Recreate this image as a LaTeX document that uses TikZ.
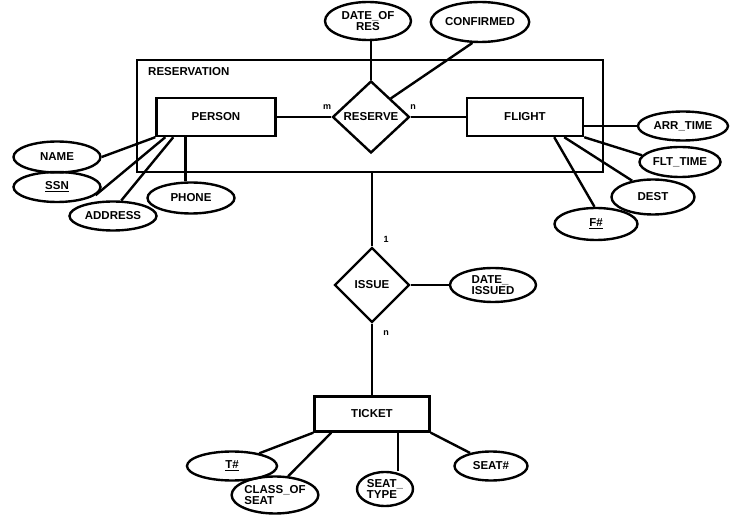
\documentclass[tikz,border=0pt]{standalone}
\usepackage{fontspec}
\setmainfont{Liberation Sans}
\usetikzlibrary{shapes.geometric}
\begin{document}
\begin{tikzpicture}[x=1pt,y=-1pt,
  every node/.style={font=\fontsize{11.5}{9}\selectfont\bfseries, inner sep=0pt},
  ent/.style={draw, line width=2.4pt, rectangle},
  attr/.style={draw, line width=2.4pt, ellipse},
  rel/.style={draw, line width=2.4pt, diamond},
  conn/.style={line width=2.4pt},
  card/.style={font=\fontsize{9}{9}\selectfont\bfseries}]
\useasboundingbox (0,0) rectangle (734,529);

% aggregation box
\node[ent, minimum width=466pt, minimum height=112pt] (resbox) at (370,116) {};
\node[anchor=west] (reslabel) at (148,72) {RESERVATION};

% entities and relationships
\node[ent, minimum width=119pt, minimum height=38pt] (person) at (216,117) {PERSON};
\node[rel, minimum width=77pt, minimum height=72pt] (reserve) at (371,117) {RESERVE};
\node[ent, minimum width=116pt, minimum height=38pt] (flight) at (525,117) {FLIGHT};
\node[rel, minimum width=75pt, minimum height=75pt] (issue) at (372,285) {ISSUE};
\node[ent, minimum width=115pt, minimum height=35pt] (ticket) at (372,414) {TICKET};

% attributes of RESERVE
\node[attr, minimum width=86pt, minimum height=38pt, align=center] (dateofres) at (368,21) {DATE\_OF\\RES};
\node[attr, minimum width=88pt, minimum height=40pt] (confirmed) at (480,22) {CONFIRMED};

% attributes of PERSON
\node[attr, minimum width=87pt, minimum height=31pt] (name) at (57,157) {NAME};
\node[attr, minimum width=87pt, minimum height=30pt] (ssn) at (57,187) {\underline{SSN}};
\node[attr, minimum width=87pt, minimum height=29pt] (address) at (113,216) {ADDRESS};
\node[attr, minimum width=87pt, minimum height=31pt] (phone) at (191,198) {PHONE};

% attributes of FLIGHT
\node[attr, minimum width=90pt, minimum height=29pt] (arrtime) at (683,126) {ARR\_TIME};
\node[attr, minimum width=81pt, minimum height=30pt] (flttime) at (680,162) {FLT\_TIME};
\node[attr, minimum width=83pt, minimum height=35pt] (dest) at (653,197) {DEST};
\node[attr, minimum width=83pt, minimum height=32pt] (fnum) at (596,224) {\underline{F\#}};

% attribute of ISSUE
\node[attr, minimum width=86pt, minimum height=34pt, align=left] (dateissued) at (493,285) {DATE\_\\ISSUED};

% attributes of TICKET
\node[attr, minimum width=90pt, minimum height=29pt] (tnum) at (232,466) {\underline{T\#}};
\node[attr, minimum width=78pt, minimum height=37pt, align=left] (classofseat) at (275,495) {CLASS\_OF\\SEAT};
\node[attr, minimum width=56pt, minimum height=34pt, align=left] (seattype) at (385,489) {SEAT\_\\TYPE};
\node[attr, minimum width=73pt, minimum height=29pt] (seatnum) at (491,466) {SEAT\#};

% cardinalities
\node[card] (cm) at (327,107) {m};
\node[card] (cn) at (413,107) {n};
\node[card] (c1) at (386,239) {1};
\node[card] (c2) at (386,333) {n};

% connectors
\draw[conn] (person.east) -- (reserve.west);
\draw[conn] (reserve.east) -- (flight.west);
\draw[conn] (reserve.north) -- (reserve.north |- dateofres.south);
\draw[conn] (reserve.north east) -- (confirmed.250);
\draw[conn] (resbox.south -| issue.north) -- (issue.north);
\draw[conn] (issue.east) -- (dateissued.west);
\draw[conn] (issue.south) -- (ticket.north);

\draw[conn] (name.east) -- (person.south west);
\draw[conn] (ssn.-12) -- ([xshift=10pt]person.south west);
\draw[conn] (address.62) -- ([xshift=18pt]person.south west);
\draw[conn] ([xshift=30pt]person.south west) -- ([xshift=30pt]person.south west |- phone.north);

\draw[conn] ([yshift=-9pt]flight.east) -- (arrtime.west);
\draw[conn] (flight.south east) -- (flttime.170);
\draw[conn] ([xshift=-20pt]flight.south east) -- (dest.142);
\draw[conn] ([xshift=-30pt]flight.south east) -- (fnum.95);

\draw[conn] (tnum.25) -- (ticket.south west);
\draw[conn] (classofseat.55) -- ([xshift=18pt]ticket.south west);
\draw[conn] ([xshift=26pt]ticket.south) -- ([xshift=26pt]ticket.south |- seattype.north);
\draw[conn] (ticket.south east) -- (seatnum.148);
\end{tikzpicture}
\end{document}
